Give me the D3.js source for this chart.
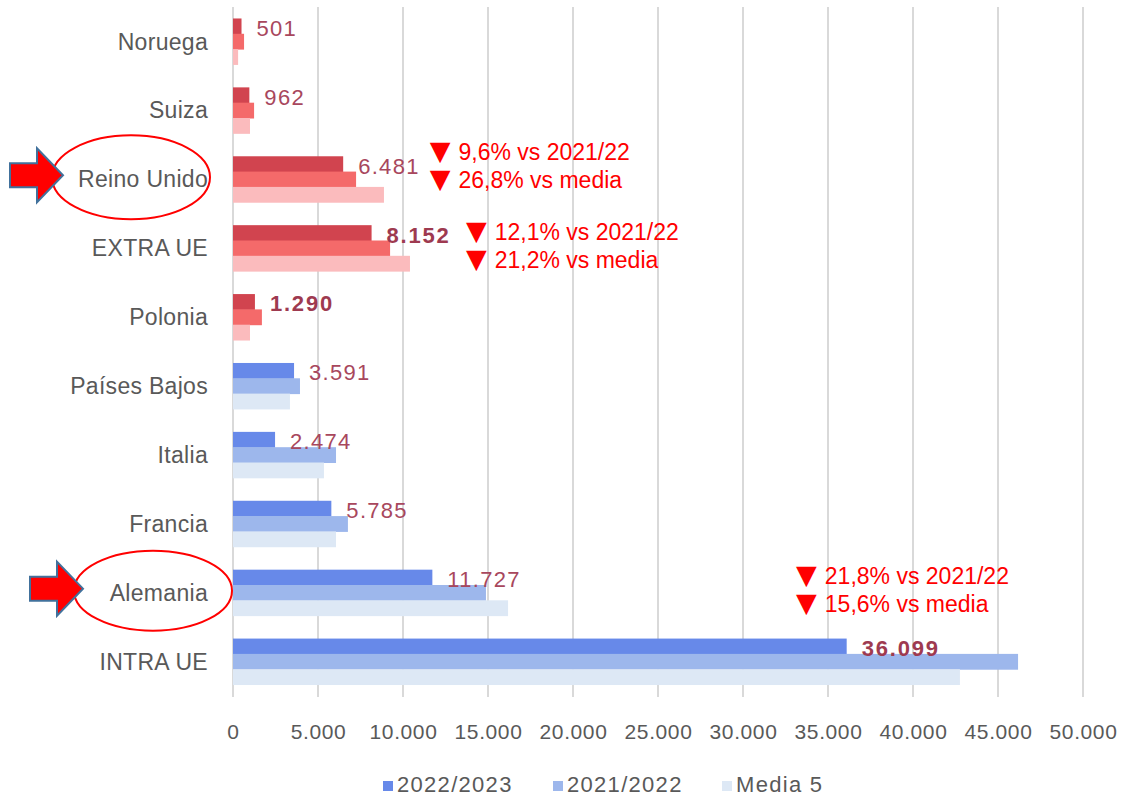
<!DOCTYPE html>
<html><head><meta charset="utf-8">
<script src="https://cdn.jsdelivr.net/npm/d3@7"></script>
<style>body{margin:0;background:#fff}svg{display:block}</style>
</head><body>
<svg id="c" width="1125" height="798"></svg>
<script>
const categories = ["Noruega","Suiza","Reino Unido","EXTRA UE","Polonia","Países Bajos","Italia","Francia","Alemania","INTRA UE"];
const seriesNames = ["2022/2023","2021/2022","Media 5"];
const v2223 = [501, 962, 6481, 8152, 1290, 3591, 2474, 5785, 11727, 36099];
const v2122 = [650, 1240, 7240, 9240, 1700, 3940, 6060, 6760, 14880, 46180];
const vMedia = [300, 1000, 8880, 10410, 1000, 3350, 5350, 6060, 16180, 42760];
const labels = ["501","962","6.481","8.152","1.290","3.591","2.474","5.785","11.727","36.099"];
const boldLabels = ["8.152","1.290","36.099"];
const redGroup = ["Noruega","Suiza","Reino Unido","EXTRA UE","Polonia"];
const xTicks = [0,5000,10000,15000,20000,25000,30000,35000,40000,45000,50000];
const annotationCats = ["Reino Unido","EXTRA UE","Alemania"];
const annotationLines = [["9,6% vs 2021/22","26,8% vs media"],["12,1% vs 2021/22","21,2% vs media"],["21,8% vs 2021/22","15,6% vs media"]];
const annotationAt = [11570, 13700, 33120];
const highlighted = ["Reino Unido","Alemania"];

const blue = ["#6789E9","#9DB7EC","#DDE8F5"];
const red = ["#D1444F","#F46A6A","#FBBBBD"];
const FONT = "Liberation Sans, Arial, sans-serif";

const svg = d3.select("#c");
const x = d3.scaleLinear().domain([0,50000]).range([233,1083]);
const y = d3.scaleBand().domain(categories).range([7,696]).paddingInner(0.333).paddingOuter(0.1665);
const sub = d3.scaleBand().domain(seriesNames).range([0,y.bandwidth()]);

// gridlines
svg.append("g").selectAll("line").data(xTicks).join("line")
  .attr("x1",d=>x(d)).attr("x2",d=>x(d)).attr("y1",7).attr("y2",697)
  .attr("stroke","#D9D9D9").attr("stroke-width",2);

// tick labels
const axis = d3.axisBottom(x).tickValues(xTicks).tickSize(0)
  .tickFormat(d=>d3.format(",")(d).replace(/,/g,"."));
const ag = svg.append("g").attr("transform","translate(0,721)").call(axis);
ag.select(".domain").remove();
ag.selectAll("text").attr("font-family",FONT)
  .attr("font-size",21).attr("fill","#595959").attr("dy","0.71em").attr("letter-spacing",0.6);

// bars
const series = [v2223,v2122,vMedia];
series.forEach((vals,si)=>{
  svg.append("g").selectAll("rect").data(categories).join("rect")
    .attr("x",x(0)).attr("y",c=>y(c)+sub(seriesNames[si]))
    .attr("width",(c,i)=>x(vals[i])-x(0)).attr("height",sub.bandwidth()+0.5)
    .attr("fill",c=>redGroup.includes(c)?red[si]:blue[si]);
});

// category labels
svg.append("g").selectAll("text").data(categories).join("text")
  .attr("x",208).attr("y",c=>y(c)+y.bandwidth()/2).attr("dy","0.35em")
  .attr("text-anchor","end").attr("font-family",FONT)
  .attr("font-size",23).attr("letter-spacing",0.3).attr("fill","#595959").text(c=>c);

// data labels
svg.append("g").selectAll("text").data(categories).join("text")
  .attr("x",(c,i)=>x(v2223[i])+15)
  .attr("y",c=>y(c)+sub("2022/2023")+sub.bandwidth()/2+2).attr("dy","0.35em")
  .attr("font-family",FONT).attr("font-size",22)
  .attr("font-weight",(c,i)=>boldLabels.includes(labels[i])?"bold":"normal")
  .attr("fill",(c,i)=>boldLabels.includes(labels[i])?"#9E3A50":"#A8475D")
  .attr("letter-spacing",(c,i)=>boldLabels.includes(labels[i])?1.8:1.3).text((c,i)=>labels[i]);

// annotations
const annOffset = {"Reino Unido":-25,"EXTRA UE":-14,"Alemania":-14};
annotationCats.forEach((cat,ai)=>{
  const g = svg.append("g");
  const cy = y(cat)+y.bandwidth()/2;
  annotationLines[ai].forEach((t,k)=>{
    const yy = cy + annOffset[cat] + k*28;
    const t0 = g.append("text").attr("x",x(annotationAt[ai])).attr("y",yy).attr("dy","0.35em")
      .attr("font-family",FONT).attr("fill","#FF0000");
    t0.append("tspan").attr("font-size",27).attr("font-family","DejaVu Sans, sans-serif").text("▼");
    t0.append("tspan").attr("font-size",23).attr("dx",8).text(t);
  });
});

// ellipses and arrows
const ell = {"Reino Unido":{cx:131,rx:79,ry:42},"Alemania":{cx:153,rx:79,ry:40}};
const arr = {"Reino Unido":{x0:10,x1:63,hx:37},"Alemania":{x0:30,x1:83,hx:57}};
highlighted.forEach(c=>{
  const cy = y(c)+y.bandwidth()/2;
  const e = ell[c];
  svg.append("ellipse").attr("cx",e.cx).attr("cy",cy-2).attr("rx",e.rx).attr("ry",e.ry)
    .attr("fill","none").attr("stroke","#FF0000").attr("stroke-width",2);
  const a = arr[c];
  const ay = cy-4;
  const pts = [[a.x0,ay-12],[a.hx,ay-12],[a.hx,ay-27],[a.x1,ay],[a.hx,ay+27],[a.hx,ay+12],[a.x0,ay+12]];
  svg.append("polygon").attr("points",pts.map(p=>p.join(",")).join(" "))
    .attr("fill","#FF0000").attr("stroke","#41719C").attr("stroke-width",2).attr("stroke-linejoin","miter");
});

// legend
const lg = svg.append("g").attr("transform","translate(0,784)");
const lx = [383,553,722];
seriesNames.forEach((s,i)=>{
  lg.append("rect").attr("x",lx[i]).attr("y",-3).attr("width",10).attr("height",10).attr("fill",blue[i]);
  lg.append("text").attr("x",lx[i]+14).attr("y",0).attr("dy","0.35em")
    .attr("font-family",FONT).attr("font-size",22).attr("letter-spacing",1.3)
    .attr("fill","#595959").text(s);
});
</script>
</body></html>
